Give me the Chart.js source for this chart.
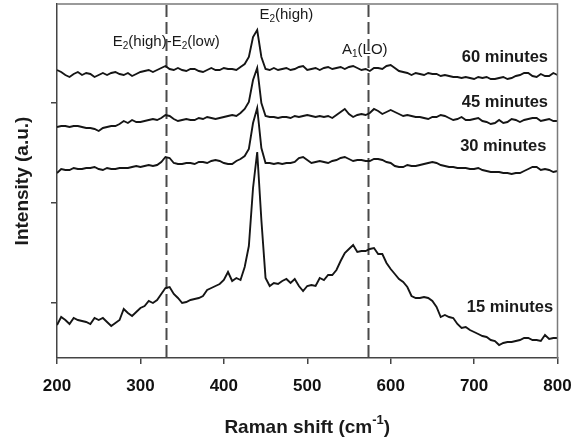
<!DOCTYPE html>
<html><head><meta charset="utf-8">
<script src="https://cdn.jsdelivr.net/npm/chart.js@4.4.0/dist/chart.umd.min.js"></script>
<style>html,body{margin:0;padding:0;background:#fff;}</style>
</head><body>
<canvas id="c" width="581" height="442"></canvas>
<script>
// ---------- DATA ----------
const ramanShift = [200,205,210,215,220,225,230,235,240,245,250,255,260,265,270,275,280,285,290,295,
300,305,310,315,320,325,330,335,340,345,350,355,360,365,370,375,380,385,390,395,
400,405,410,415,420,425,430,435,440,445,450,455,460,465,470,475,480,485,490,495,
500,505,510,515,520,525,530,535,540,545,550,555,560,565,570,575,580,585,590,595,
600,605,610,615,620,625,630,635,640,645,650,655,660,665,670,675,680,685,690,695,
700,705,710,715,720,725,730,735,740,745,750,755,760,765,770,775,780,785,790,795,800];

const min60 = [288,286,283,281,284,286,283,285,284,281, 283,285,283,285,286,284,283,285,282,284,
286,287,288,286,288,290,292,289,288,290, 288,287,289,289,287,286,288,290,288,288,
290,289,289,288,291,294,301,321,328,301, 289,288,290,288,289,290,288,289,291,292,
288,289,290,288,290,291,289,290,291,289, 291,292,290,288,289,287,290,290,289,292,
293,290,287,286,285,283,285,284,283,285, 284,284,282,283,282,281,281,280,281,280,
279,281,280,281,279,279,280,281,279,280, 282,283,285,285,282,281,284,282,282,285, 283];

const min45 = [231,232,232,231,232,232,231,230,230,229, 227,230,231,232,232,234,237,235,238,236,
236,237,238,239,238,240,243,242,239,237, 238,239,238,238,240,239,241,240,239,240,
241,242,243,242,245,249,256,278,290,255, 242,241,241,240,241,241,240,242,241,242,
243,242,241,242,241,242,240,243,246,249, 244,241,243,244,243,245,249,247,244,246,
248,246,244,242,243,242,241,241,240,239, 241,241,243,242,240,238,239,241,238,238,
239,240,237,236,234,235,238,235,236,239, 238,236,238,239,240,240,237,238,239,237, 237];

const min30 = [185,189,188,188,190,189,189,190,190,191, 189,188,190,189,189,190,190,190,191,192,
191,192,193,192,193,196,201,200,195,194, 194,195,195,194,196,196,195,197,198,197,
195,194,194,197,199,202,209,235,250,210, 195,195,194,195,194,195,195,196,200,201,
198,195,196,197,196,195,197,198,200,201, 199,197,198,198,197,197,199,199,198,196,
195,192,191,191,193,192,192,193,194,195, 196,195,193,192,191,191,190,190,190,189,
189,190,188,187,186,186,186,185,185,184, 185,185,187,189,191,191,188,189,188,186, 187];

const min15 = [33,41,38,34,40,38,37,36,34,40, 38,40,36,32,35,38,49,45,42,46,
50,52,57,55,58,64,70,71,64,60, 55,56,58,59,60,62,68,70,72,74,
78,86,77,80,78,91,112,170,206,138, 80,72,75,74,77,79,75,79,72,67,
72,73,72,80,78,83,83,88,97,105, 109,113,106,107,107,109,110,104,104,95,
89,84,79,76,71,62,60,60,61,60, 57,51,41,43,41,40,34,30,31,28,
26,24,22,21,18,17,13,15,16,16, 17,18,20,20,18,18,17,23,19,20, 20];

const seriesNames = ['15 minutes','30 minutes','45 minutes','60 minutes'];
const seriesValues = [min15, min30, min45, min60];
const xTickValues = [200,300,400,500,600,700,800];
const yTickMarks = [55,155,255];
const modeLines = [331, 573];
// label anchor points in data units (x: Raman shift, y: intensity a.u.)
const seriesLabelX = [743, 735, 737, 737];
const seriesLabelY = [51, 212, 256, 301];
const modeLabelParts = [
  [['E',0],['2',1],['(high)-E',0],['2',1],['(low)',0]],
  [['E',0],['2',1],['(high)',0]],
  [['A',0],['1',1],['(LO)',0]]
];
const modeLabelX = [331, 475, 569];
const modeLabelY = [316, 343, 308];

// ---------- DRAWING ----------
const FONT = '"Liberation Sans", Arial, sans-serif';

function drawRich(ctx, parts, x, y, size, weight) {
  const big = weight + ' ' + size + 'px ' + FONT;
  const small = weight + ' ' + Math.round(size * 0.68) + 'px ' + FONT;
  let w = 0;
  parts.forEach(p => { ctx.font = p[1] ? small : big; w += ctx.measureText(p[0]).width; });
  let cx = x - w / 2;
  ctx.textAlign = 'left';
  ctx.textBaseline = 'middle';
  parts.forEach(p => {
    ctx.font = p[1] ? small : big;
    let dy = 0;
    if (p[1] === 1) dy = size * 0.3;
    if (p[1] === 2) dy = -size * 0.38;
    ctx.fillText(p[0], cx, y + dy);
    cx += ctx.measureText(p[0]).width;
  });
}

const decor = {
  id: 'decor',
  beforeDatasetsDraw(chart) {
    const {ctx, chartArea: a, scales: {x}} = chart;
    ctx.save();
    ctx.strokeStyle = '#4a4a4a';
    ctx.lineWidth = 2;
    ctx.setLineDash([12, 5]);
    modeLines.forEach(v => {
      const px = Math.round(x.getPixelForValue(v)) + 0.5;
      ctx.beginPath(); ctx.moveTo(px, a.top + 1); ctx.lineTo(px, a.bottom); ctx.stroke();
    });
    ctx.restore();
  },
  afterDraw(chart) {
    const {ctx, chartArea: a, scales: {x, y}} = chart;
    ctx.save();
    // frame top/right
    ctx.strokeStyle = '#7a7a7a';
    ctx.lineWidth = 1.5;
    ctx.beginPath(); ctx.moveTo(a.left, a.top); ctx.lineTo(a.right, a.top); ctx.lineTo(a.right, a.bottom); ctx.stroke();
    ctx.fillStyle = '#1a1a1a';
    // mode labels
    modeLabelParts.forEach((parts, i) => {
      drawRich(ctx, parts, x.getPixelForValue(modeLabelX[i]), y.getPixelForValue(modeLabelY[i]), 15, 'normal');
    });
    // series labels
    ctx.font = 'bold 16.5px ' + FONT;
    ctx.textAlign = 'center'; ctx.textBaseline = 'middle';
    seriesNames.forEach((n, i) => {
      ctx.fillText(n, x.getPixelForValue(seriesLabelX[i]), y.getPixelForValue(seriesLabelY[i]));
    });
    // axis titles
    drawRich(ctx, [['Raman shift (cm',0],['-1',2],[')',0]], (a.left + a.right) / 2, 428, 19, 'bold');
    ctx.save();
    ctx.translate(23, (a.top + a.bottom) / 2);
    ctx.rotate(-Math.PI / 2);
    ctx.font = 'bold 19px ' + FONT;
    ctx.textAlign = 'center'; ctx.textBaseline = 'middle';
    ctx.fillText('Intensity (a.u.)', 0, 0);
    ctx.restore();
    ctx.restore();
  }
};

new Chart(document.getElementById('c'), {
  type: 'line',
  data: {
    datasets: seriesValues.map((vals, i) => ({
      label: seriesNames[i],
      data: ramanShift.map((xv, j) => ({x: xv, y: vals[j]})),
      borderColor: '#151515',
      borderWidth: 1.9,
      pointRadius: 0,
      tension: 0,
      fill: false
    }))
  },
  options: {
    responsive: false,
    animation: false,
    devicePixelRatio: 1,
    layout: {padding: {top: 4, right: 23.5, left: 0, bottom: 0}},
    plugins: {legend: {display: false}, tooltip: {enabled: false}},
    scales: {
      x: {
        type: 'linear', min: 200, max: 800,
        afterBuildTicks: s => { s.ticks = xTickValues.map(v => ({value: v})); },
        ticks: {font: {family: FONT, weight: 'bold', size: 17}, color: '#111', padding: 12, maxRotation: 0, autoSkip: false},
        grid: {drawOnChartArea: false, drawTicks: true, tickLength: 6, color: '#444', lineWidth: 1.5},
        border: {display: true, color: '#444', width: 1.5},
        afterFit: s => { s.height = 84; s.paddingLeft = 0; s.paddingRight = 0; }
      },
      y: {
        type: 'linear', min: 0, max: 354,
        afterBuildTicks: s => { s.ticks = yTickMarks.map(v => ({value: v})); },
        ticks: {display: false},
        grid: {drawOnChartArea: false, drawTicks: true, tickLength: 6, color: '#444', lineWidth: 1.5},
        border: {display: true, color: '#444', width: 1.5},
        afterFit: s => { s.width = 57; s.paddingTop = 0; s.paddingBottom = 0; }
      }
    }
  },
  plugins: [decor]
});
</script>
</body></html>
